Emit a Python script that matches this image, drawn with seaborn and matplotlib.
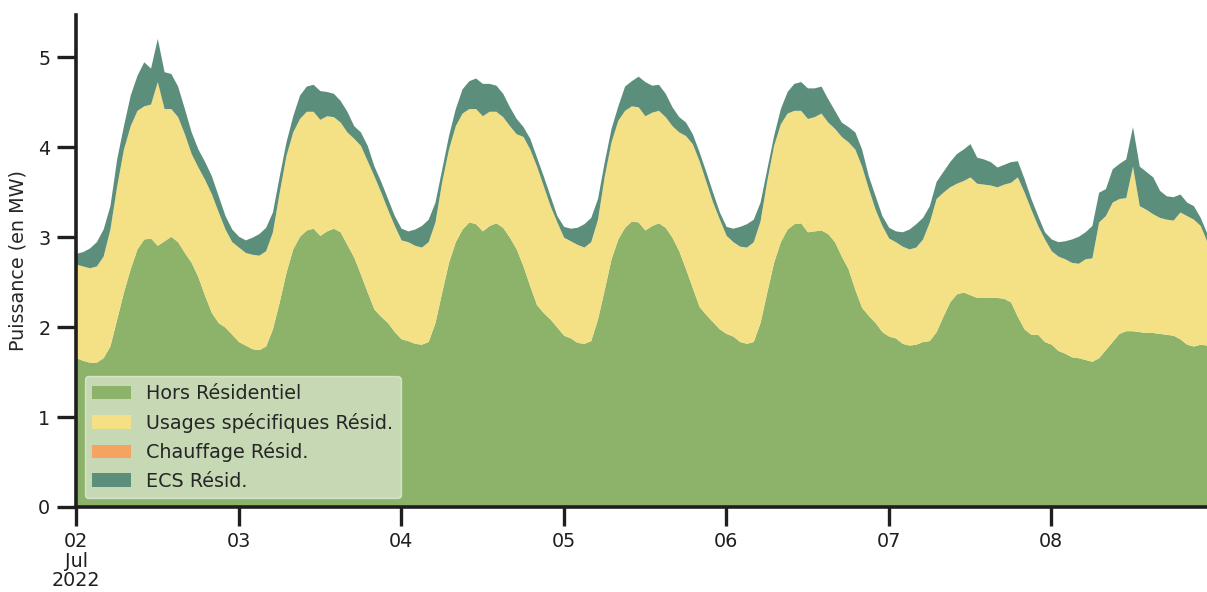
import pandas as pd
import numpy as np
import matplotlib.pyplot as plt
import matplotlib.dates as mdates
import seaborn as sns

# hourly values, 2022-07-02 00:00 -> 2022-07-08 23:00 (MW)
dates = pd.date_range(start='2022-07-02 00:00', periods=168, freq='h')

hors_residentiel = [
    1.66, 1.63, 1.61, 1.61, 1.66, 1.79, 2.09, 2.39, 2.65, 2.87, 2.98, 2.99, 2.91, 2.96, 3.01, 2.95, 2.83, 2.72, 2.56, 2.35, 2.16, 2.05, 2.00, 1.92,
    1.84, 1.80, 1.76, 1.75, 1.79, 1.98, 2.28, 2.61, 2.87, 3.01, 3.08, 3.10, 3.02, 3.07, 3.10, 3.06, 2.92, 2.78, 2.59, 2.39, 2.20, 2.12, 2.05, 1.95,
    1.87, 1.85, 1.82, 1.81, 1.84, 2.05, 2.39, 2.72, 2.95, 3.09, 3.17, 3.15, 3.07, 3.13, 3.16, 3.11, 3.00, 2.87, 2.68, 2.46, 2.25, 2.16, 2.09, 2.00,
    1.91, 1.88, 1.83, 1.82, 1.85, 2.09, 2.42, 2.76, 2.98, 3.11, 3.18, 3.17, 3.08, 3.13, 3.16, 3.11, 3.00, 2.85, 2.65, 2.44, 2.23, 2.14, 2.06, 1.98,
    1.93, 1.90, 1.84, 1.82, 1.84, 2.05, 2.39, 2.72, 2.95, 3.09, 3.15, 3.16, 3.06, 3.07, 3.08, 3.04, 2.95, 2.79, 2.65, 2.42, 2.22, 2.13, 2.05, 1.95,
    1.90, 1.88, 1.82, 1.80, 1.81, 1.84, 1.85, 1.95, 2.12, 2.28, 2.37, 2.39, 2.36, 2.33, 2.33, 2.33, 2.33, 2.32, 2.28, 2.12, 1.98, 1.92, 1.92, 1.84,
    1.81, 1.74, 1.71, 1.67, 1.66, 1.64, 1.62, 1.66, 1.75, 1.84, 1.93, 1.96, 1.96, 1.95, 1.94, 1.94, 1.93, 1.92, 1.91, 1.87, 1.81, 1.79, 1.81, 1.80,
]
usages_specifiques = [
    1.04, 1.05, 1.05, 1.07, 1.13, 1.30, 1.48, 1.59, 1.59, 1.54, 1.48, 1.49, 1.82, 1.47, 1.42, 1.39, 1.32, 1.21, 1.22, 1.29, 1.32, 1.23, 1.09, 1.03,
    1.05, 1.03, 1.05, 1.05, 1.06, 1.08, 1.22, 1.30, 1.30, 1.31, 1.32, 1.30, 1.29, 1.28, 1.24, 1.22, 1.25, 1.32, 1.43, 1.46, 1.48, 1.38, 1.26, 1.18,
    1.10, 1.10, 1.09, 1.08, 1.11, 1.12, 1.23, 1.26, 1.29, 1.29, 1.26, 1.28, 1.28, 1.27, 1.24, 1.23, 1.24, 1.28, 1.44, 1.52, 1.54, 1.41, 1.26, 1.17,
    1.09, 1.08, 1.09, 1.07, 1.10, 1.11, 1.26, 1.30, 1.32, 1.30, 1.28, 1.28, 1.27, 1.26, 1.25, 1.23, 1.24, 1.32, 1.48, 1.60, 1.62, 1.48, 1.33, 1.22,
    1.09, 1.05, 1.06, 1.07, 1.11, 1.13, 1.24, 1.30, 1.31, 1.29, 1.26, 1.25, 1.26, 1.27, 1.30, 1.24, 1.26, 1.33, 1.41, 1.56, 1.57, 1.41, 1.26, 1.18,
    1.09, 1.07, 1.08, 1.07, 1.08, 1.14, 1.32, 1.48, 1.38, 1.28, 1.23, 1.24, 1.31, 1.27, 1.26, 1.25, 1.23, 1.27, 1.33, 1.55, 1.52, 1.39, 1.21, 1.14,
    1.04, 1.05, 1.05, 1.05, 1.05, 1.12, 1.15, 1.51, 1.49, 1.55, 1.50, 1.48, 1.83, 1.40, 1.37, 1.32, 1.29, 1.28, 1.28, 1.41, 1.43, 1.41, 1.32, 1.15,
]
chauffage = [0.0] * 168  # no heating in July
ecs = [
    0.12, 0.16, 0.22, 0.27, 0.30, 0.26, 0.30, 0.26, 0.34, 0.39, 0.49, 0.40, 0.48, 0.41, 0.39, 0.34, 0.28, 0.24, 0.20, 0.20, 0.20, 0.18, 0.15, 0.14,
    0.12, 0.14, 0.19, 0.24, 0.26, 0.22, 0.18, 0.15, 0.18, 0.26, 0.28, 0.30, 0.32, 0.27, 0.26, 0.24, 0.23, 0.14, 0.15, 0.17, 0.11, 0.12, 0.12, 0.11,
    0.13, 0.12, 0.18, 0.24, 0.25, 0.22, 0.14, 0.15, 0.19, 0.27, 0.31, 0.34, 0.36, 0.31, 0.29, 0.26, 0.21, 0.17, 0.11, 0.12, 0.10, 0.11, 0.11, 0.07,
    0.12, 0.14, 0.19, 0.26, 0.27, 0.23, 0.16, 0.15, 0.16, 0.27, 0.28, 0.34, 0.38, 0.30, 0.29, 0.26, 0.21, 0.17, 0.15, 0.11, 0.10, 0.11, 0.11, 0.08,
    0.10, 0.15, 0.22, 0.26, 0.25, 0.21, 0.13, 0.11, 0.17, 0.24, 0.30, 0.32, 0.34, 0.32, 0.30, 0.26, 0.20, 0.16, 0.17, 0.19, 0.19, 0.14, 0.15, 0.11,
    0.12, 0.12, 0.16, 0.22, 0.26, 0.24, 0.18, 0.19, 0.23, 0.28, 0.33, 0.35, 0.37, 0.29, 0.28, 0.26, 0.22, 0.22, 0.23, 0.18, 0.15, 0.12, 0.11, 0.08,
    0.13, 0.16, 0.20, 0.26, 0.30, 0.30, 0.36, 0.33, 0.30, 0.37, 0.39, 0.43, 0.44, 0.44, 0.42, 0.41, 0.30, 0.26, 0.26, 0.20, 0.15, 0.15, 0.09, 0.09,
]

labels = ['Hors Résidentiel', 'Usages spécifiques Résid.', 'Chauffage Résid.', 'ECS Résid.']
colors = ['#8db36a', '#f4e185', '#f4a460', '#5c8e7c']

df = pd.DataFrame({
    labels[0]: hors_residentiel,
    labels[1]: usages_specifiques,
    labels[2]: chauffage,
    labels[3]: ecs,
}, index=dates)

sns.set_theme(style='ticks', rc={
    'font.size': 13.8,
    'axes.labelsize': 13.8,
    'xtick.labelsize': 13.8,
    'ytick.labelsize': 13.8,
    'legend.fontsize': 13.8,
    'axes.linewidth': 2.6,
    'xtick.major.width': 2.4,
    'ytick.major.width': 2.4,
    'xtick.major.size': 14,
    'ytick.major.size': 14,
    'xtick.major.pad': 4,
    'ytick.major.pad': 4.5,
    'axes.edgecolor': '.12',
    'xtick.color': '.12',
    'ytick.color': '.12',
})

fig, ax = plt.subplots(figsize=(12.07, 5.92), dpi=100)

df.plot.area(ax=ax, color=colors, linewidth=0, alpha=1, x_compat=True, legend=False)

# pandas calls autofmt_xdate, so set the layout after plotting
fig.subplots_adjust(left=0.063, right=1.0, bottom=0.1436, top=0.9747)

ax.set_xlim(dates[0], dates[-1])
ax.set_ylim(0, None)
ax.set_xlabel('')
ax.set_ylabel('Puissance (en MW)', labelpad=7.5)

ax.xaxis.set_major_locator(mdates.DayLocator())
ax.xaxis.set_minor_locator(mdates.DayLocator())
ax.xaxis.set_minor_formatter(plt.NullFormatter())


def day_label(x, pos):
    d = mdates.num2date(x)
    if pos == 0:
        return d.strftime('%d\n%b\n%Y')
    return d.strftime('%d')


ax.xaxis.set_major_formatter(plt.FuncFormatter(day_label))
plt.setp(ax.get_xticklabels(), rotation=0, ha='center', linespacing=1.05)

ax.legend(loc='lower left', framealpha=0.5, edgecolor='white', facecolor='white',
          borderaxespad=0.45)
sns.despine(ax=ax)

fig.savefig('out.png', dpi=100)
